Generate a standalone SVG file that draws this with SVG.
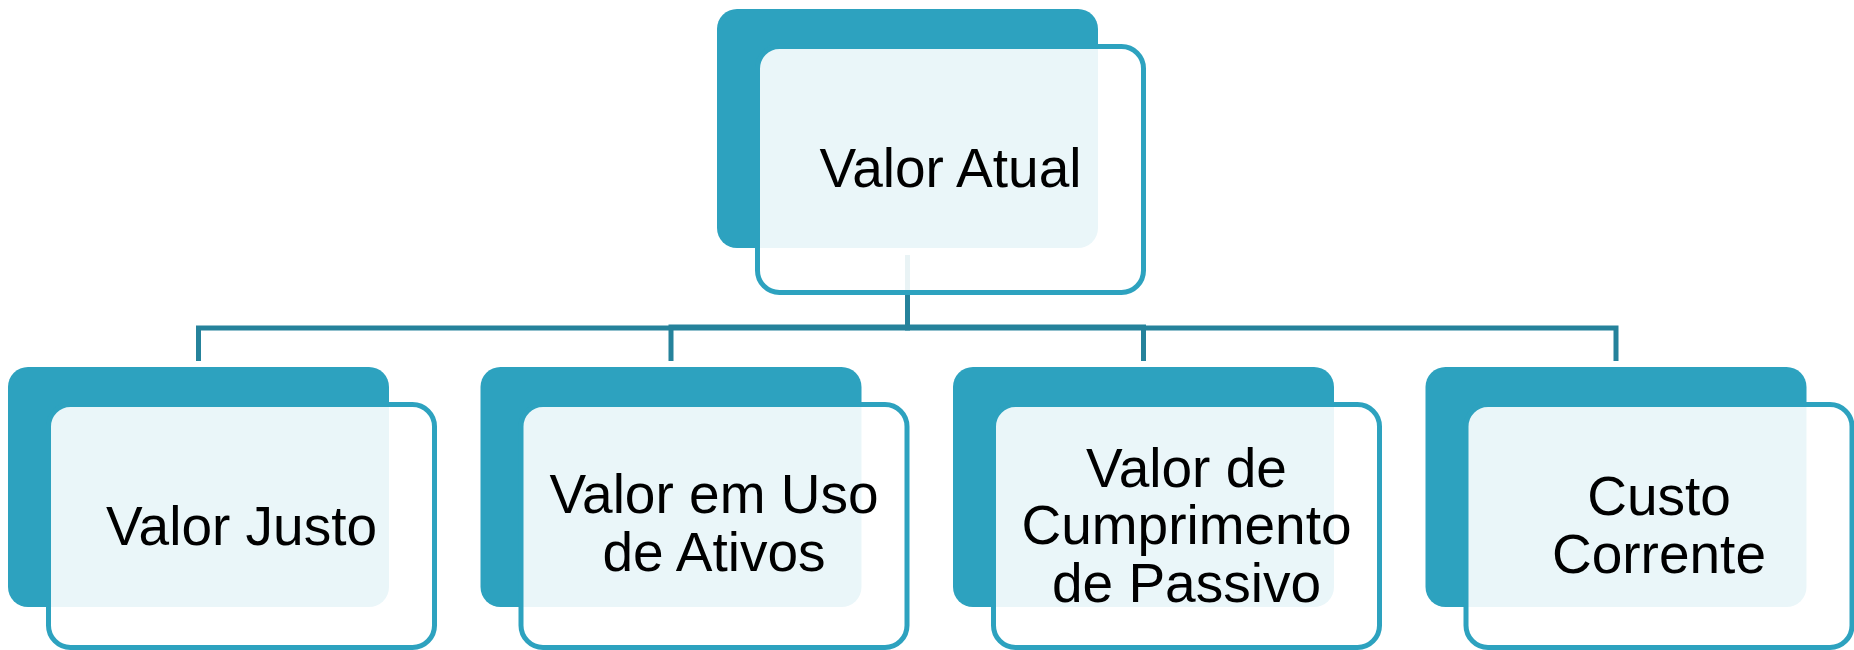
<svg xmlns="http://www.w3.org/2000/svg" width="1854" height="650" viewBox="0 0 1854 650">
<style>
.back{fill:#2DA2BF;}
.front{fill:#FFFFFF;fill-opacity:0.9;stroke:#2DA2BF;stroke-width:5;}
.conn{fill:none;stroke:#25829B;stroke-width:5;}
.lbl{font-family:"Liberation Sans",Arial,sans-serif;font-size:55px;fill:#000000;text-anchor:middle;}
</style>
<rect width="1854" height="650" fill="#FFFFFF"/>
<g id="top-back"><rect class="back" x="717" y="9" width="381" height="239" rx="20"/></g>
<g id="n1-back"><rect class="back" x="8" y="367" width="381" height="240" rx="20"/></g>
<g id="n2-back"><rect class="back" x="480.5" y="367" width="381" height="240" rx="20"/></g>
<g id="n3-back"><rect class="back" x="953" y="367" width="381" height="240" rx="20"/></g>
<g id="n4-back"><rect class="back" x="1425.5" y="367" width="381" height="240" rx="20"/></g>
<g id="connectors">
<path class="conn" d="M907.5 255 V328 H198.5 V361"/>
<path class="conn" d="M907.5 255 V327 H671 V361"/>
<path class="conn" d="M907.5 255 V327 H1143.5 V361"/>
<path class="conn" d="M907.5 255 V328 H1616 V361"/>
</g>
<g id="valor-atual">
<rect class="front" x="757.5" y="46.5" width="386" height="246" rx="22"/>
<text class="lbl" x="950.5" y="187">Valor Atual</text>
</g>
<g id="valor-justo">
<rect class="front" x="48.5" y="404.5" width="386" height="243" rx="22"/>
<text class="lbl" x="241.5" y="545">Valor Justo</text>
</g>
<g id="valor-em-uso">
<rect class="front" x="521" y="404.5" width="386" height="243" rx="22"/>
<text class="lbl" x="714" y="513">Valor em Uso</text>
<text class="lbl" x="714" y="571">de Ativos</text>
</g>
<g id="valor-cumprimento">
<rect class="front" x="993.5" y="404.5" width="386" height="243" rx="22"/>
<text class="lbl" x="1186.5" y="487">Valor de</text>
<text class="lbl" x="1186.5" y="544">Cumprimento</text>
<text class="lbl" x="1186.5" y="601.5">de Passivo</text>
</g>
<g id="custo-corrente">
<rect class="front" x="1466" y="404.5" width="386" height="243" rx="22"/>
<text class="lbl" x="1659" y="515">Custo</text>
<text class="lbl" x="1659" y="573">Corrente</text>
</g>
</svg>
